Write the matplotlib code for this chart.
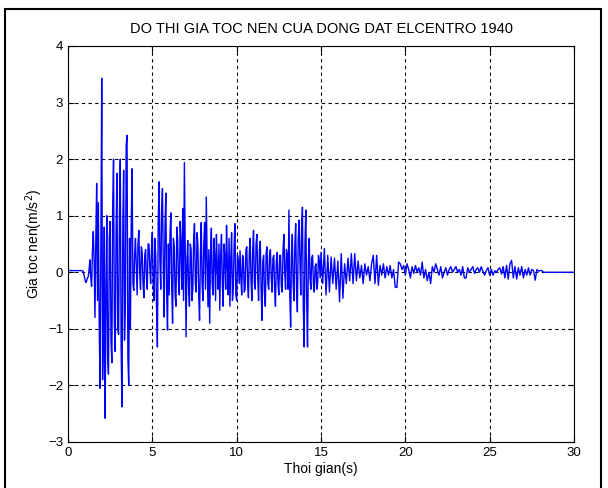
import numpy as np
import matplotlib.pyplot as plt
from matplotlib.patches import Rectangle

# ground acceleration (m/s^2)
# quiet start, 0.0 - 0.9 s, every 0.1 s
acc_start = [0.03, 0.03, 0.03, 0.03, 0.03, 0.03, 0.03, 0.03, 0.03, 0.02]

# strong motion, 1.0 - 14.95 s, every 0.05 s (one row per second)
acc_strong = [
    -0.12, -0.18, -0.16, -0.1, -0.08, 0.05, 0.22, -0.1, -0.25, 0.4, 0.72, 0.2, -0.8, 0.6, 1.57, -0.5, 1.23, -0.9, -2.05, 0.5,
    3.43, -1.9, -1.2, 0.8, -2.58, -0.5, 1.0, -1.5, -1.8, 0.6, 0.9, -1.2, -1.6, 1.2, 2.0, -0.9, -1.4, 0.7, 1.75, -1.0,
    -1.1, 1.0, 2.0, -1.3, -2.38, 0.8, 1.8, -1.2, -0.6, 2.25, 2.42, -1.5, -2.0, 0.6, -1.0, 0.9, 1.83, -0.2, -0.32, 0.3,
    0.6, 0.1, -0.4, 0.5, 0.74, 0.0, -0.3, 0.45, 0.35, -0.2, -0.45, 0.3, 0.4, -0.1, -0.3, 0.5, 0.5, 0.1, -0.2, 0.4,
    0.71, -0.2, -0.5, 0.6, 0.3, -0.6, -1.32, 0.9, 1.6, 0.2, -0.3, 1.1, 1.48, 0.1, -0.79, 0.8, 1.4, -0.4, -1.02, 0.5,
    -0.4, 0.7, 1.05, -0.3, -0.9, 0.6, 0.45, -0.4, -0.6, 0.8, 0.6, -0.2, -0.4, 0.9, 0.5, -0.3, 1.13, -0.5, 1.94, 0.3,
    -1.14, 0.2, 0.56, -0.3, -0.6, 0.5, 0.4, -0.5, -0.3, 0.6, 0.86, -0.2, -0.35, 0.7, 0.5, -0.4, -0.85, 0.3, 0.88, -0.2,
    -0.5, 0.5, 0.88, -0.3, 1.33, 0.2, -0.61, 0.4, -0.9, 0.3, 0.78, -0.2, -0.4, 0.6, 0.3, -0.5, 0.67, 0.1, -0.3, 0.5,
    -0.67, 0.3, 0.67, -0.2, -0.6, 0.5, 0.3, -0.3, 0.83, 0.1, -0.4, 0.6, -0.6, 0.2, 0.7, -0.5, -0.3, 0.5, 0.86, -0.4,
    -0.5, 0.3, 0.2, -0.2, 0.38, -0.1, -0.4, 0.3, 0.25, -0.35, -0.3, 0.4, 0.45, -0.2, -0.45, 0.35, 0.6, -0.1, -0.5, 0.4,
    0.74, -0.2, -0.3, 0.5, 0.67, -0.1, -0.5, 0.4, 0.55, -0.3, -0.85, 0.2, 0.3, -0.4, -0.6, 0.35, 0.45, -0.2, -0.3, 0.3,
    0.4, -0.1, -0.35, 0.25, 0.3, -0.3, -0.6, 0.2, 0.35, -0.2, -0.4, 0.3, 0.3, -0.25, -0.35, 0.4, 0.67, 0.0, -0.3, 0.4,
    0.3, -0.3, 1.1, -0.4, -0.97, 0.3, 0.67, -0.2, -0.5, 0.5, 0.86, -0.3, -0.7, 0.6, 0.92, 0.2, -0.4, 0.8, 1.15, -0.6,
    -1.32, 0.5, 1.1, -0.5, -1.32, 0.2, 0.6, -0.1, -0.3, 0.25, 0.3, -0.2, -0.35, 0.1, 0.15, -0.3, -0.2, 0.3, 0.2, -0.1,
]

# decaying part, 15.0 - 28.2 s, every 0.1 s
acc_decay = [
    0.35, -0.2, 0.42, -0.4, 0.3, -0.35, 0.27, -0.2, 0.25, -0.3,
    0.2, -0.52, 0.33, -0.46, 0.15, -0.2, 0.25, -0.15, 0.33, -0.2,
    0.33, -0.15, 0.2, -0.1, 0.12, -0.2, 0.15, -0.05, 0.1, -0.15,
    0.15, 0.3, -0.2, 0.3, -0.23, 0.12, -0.05, 0.15, -0.1, 0.1,
    -0.05, 0.12, -0.1, 0.05, -0.26, -0.27, 0.18, 0.15, 0.05, 0.12,
    -0.05, 0.15, 0.05, -0.1, 0.1, -0.02, 0.12, 0.0, 0.08, -0.05,
    0.18, -0.1, 0.05, -0.15, 0.0, -0.2, 0.1, 0.0, 0.15, 0.05,
    -0.05, 0.1, -0.1, 0.0, 0.08, -0.05, 0.05, 0.1, 0.0, 0.05,
    0.1, 0.0, 0.05, -0.05, 0.1, -0.1, -0.1, 0.08, 0.0, 0.05,
    0.1, -0.02, 0.05, 0.08, 0.0, 0.1, 0.02, -0.05, 0.03, 0.08,
    -0.05, 0.05, -0.05, 0.03, 0.0, 0.05, 0.08, -0.03, 0.1, -0.1,
    0.12, -0.12, 0.15, 0.21, -0.1, 0.1, -0.12, 0.08, -0.05, 0.1,
    -0.1, 0.05, -0.05, 0.08, -0.05, 0.05, 0.03, -0.14, 0.05, 0.02,
    0.03, 0.03, 0.0,
]
# flat end of the record
tail_t = [28.3, 30.0]
tail_acc = [0.0, 0.0]

t = np.concatenate([
    np.arange(len(acc_start)) * 0.1,
    1.0 + np.arange(len(acc_strong)) * 0.05,
    15.0 + np.arange(len(acc_decay)) * 0.1,
    tail_t,
])
a = np.concatenate([acc_start, acc_strong, acc_decay, tail_acc])

plt.rcParams['font.family'] = ['Liberation Sans', 'DejaVu Sans']

fig = plt.figure(figsize=(6.08, 4.88), dpi=100)
ax = fig.add_axes([68/608, 1 - 442/488, (574 - 68)/608, (442 - 46)/488])

ax.plot(t, a, color='#0000ff', lw=1.0)

ax.set_xlim(0, 30)
ax.set_ylim(-3, 4)
ax.set_xticks(range(0, 31, 5))
ax.set_yticks(range(-3, 5))
ax.grid(True, color='black', linestyle=(0, (3, 3)), lw=0.8)
ax.tick_params(direction='in', top=True, right=True, labelsize=9.5, length=4)
for s in ax.spines.values():
    s.set_linewidth(0.8)

ax.set_title('DO THI GIA TOC NEN CUA DONG DAT ELCENTRO 1940', fontsize=10.5, pad=9)
ax.set_xlabel('Thoi gian(s)', fontsize=10, labelpad=2)
ax.set_ylabel('Gia toc nen(m/s$^2$)', fontsize=10, labelpad=2)

# outer frame of the screenshot
fig.patches.append(Rectangle((5/608, -0.05), 596/608, 1 - 9/488 + 0.05,
                             transform=fig.transFigure, fill=False,
                             edgecolor='black', lw=1.5))

fig.savefig('out.png', dpi=100)
